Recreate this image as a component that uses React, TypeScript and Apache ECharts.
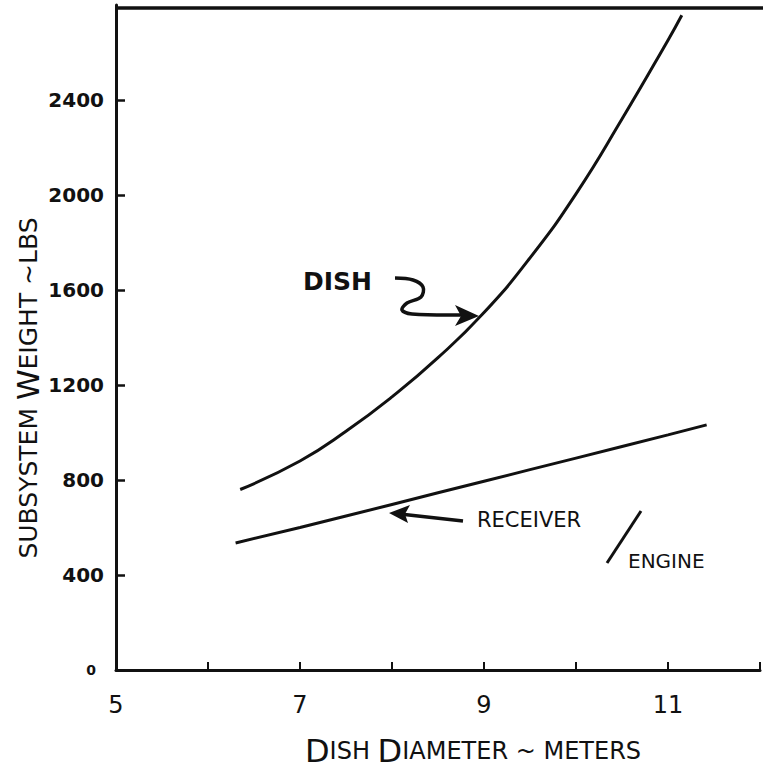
import React, { useEffect, useRef } from "react";
import * as echarts from "echarts";

// Axis settings
const xMin = 5;
const xMax = 12;
const xInterval = 1;
const yMin = 0;
const yMax = 2800;
const yInterval = 400;
const yTickValues = [0, 400, 800, 1200, 1600, 2000, 2400];
const xLabelValues = [5, 7, 9, 11];

// Dish curve (dish diameter in meters -> weight in lbs)
const dishX = [6.35, 7, 7.5, 8, 8.5, 9, 9.5, 10, 10.5, 11, 11.15];
const dishY = [760, 880, 1005, 1150, 1315, 1505, 1735, 2005, 2320, 2652, 2757];

// Receiver / engine curve
const receiverX = [6.3, 7, 8, 9, 10, 11, 11.42];
const receiverY = [535, 600, 697, 795, 892, 990, 1032];

const INK = "#111";
const FONT = "DejaVu Sans";

export default function App() {
  const ref = useRef<HTMLDivElement>(null);

  useEffect(() => {
    if (!ref.current) return;
    const chart = echarts.init(ref.current, null, { renderer: "svg" });

    const dishData = dishX.map((x, i) => [x, dishY[i]]);
    const recData = receiverX.map((x, i) => [x, receiverY[i]]);

    chart.setOption({
      animation: false,
      backgroundColor: "#fff",
      grid: { left: 116, right: -6, top: 5, bottom: 104, containLabel: false },
      xAxis: {
        type: "value",
        min: xMin,
        max: xMax,
        interval: xInterval,
        axisLine: { show: true, lineStyle: { color: INK, width: 3 } },
        axisTick: { show: true, inside: true, length: 8, lineStyle: { color: INK, width: 2 } },
        splitLine: { show: false },
        axisLabel: {
          margin: 23,
          color: INK,
          fontFamily: FONT,
          fontSize: 24,
          formatter: (v: number) => (xLabelValues.indexOf(v) >= 0 ? String(v) : ""),
        },
      },
      yAxis: {
        type: "value",
        min: yMin,
        max: yMax,
        interval: yInterval,
        axisLine: { show: true, lineStyle: { color: INK, width: 3 } },
        axisTick: {
          show: true,
          inside: true,
          length: 9,
          lineStyle: { color: INK, width: 2.5 },
          customValues: yTickValues,
        },
        splitLine: { show: false },
        axisLabel: {
          margin: 12,
          color: INK,
          fontFamily: FONT,
          fontWeight: "bold",
          fontSize: 20,
          customValues: yTickValues,
          formatter: (v: number) => (v === yMax ? "" : v === 0 ? "{z|0}" : String(v)),
          rich: {
            z: { fontSize: 14, fontFamily: FONT, color: INK, padding: [0, 8, 0, 0] },
          },
        },
      },
      series: [
        {
          name: "Dish",
          type: "line",
          data: dishData,
          smooth: 0.5,
          showSymbol: false,
          lineStyle: { color: INK, width: 3 },
        },
        {
          name: "Receiver/Engine",
          type: "line",
          data: recData,
          smooth: 0.5,
          showSymbol: false,
          lineStyle: { color: INK, width: 3 },
        },
      ],
      graphic: [
        // top frame line
        {
          type: "line",
          shape: { x1: 116, y1: 8, x2: 763, y2: 8 },
          style: { stroke: INK, lineWidth: 3.5 },
        },
        // DISH label and squiggle arrow
        {
          type: "text",
          x: 303,
          y: 281,
          style: {
            text: "DISH",
            font: `bold 25px ${FONT}`,
            fill: INK,
            verticalAlign: "middle",
            align: "left",
          },
        },
        {
          type: "polyline",
          shape: {
            points: [
              [395, 278],
              [413, 280],
              [423, 287],
              [421, 297],
              [407, 303],
              [402, 310],
              [412, 314],
              [462, 315],
            ],
            smooth: 0.35,
          },
          style: { stroke: INK, lineWidth: 3.5, fill: "none" },
        },
        {
          type: "polygon",
          shape: { points: [[479, 316], [455, 305], [461, 316], [455, 326]] },
          style: { fill: INK },
        },
        // RECEIVER / ENGINE label and arrow
        {
          type: "line",
          shape: { x1: 463, y1: 521, x2: 400, y2: 514 },
          style: { stroke: INK, lineWidth: 3.5 },
        },
        {
          type: "polygon",
          shape: { points: [[389, 513], [410, 505], [405, 514], [408, 523]] },
          style: { fill: INK },
        },
        {
          type: "text",
          x: 477,
          y: 520,
          style: {
            text: "RECEIVER",
            font: `21px ${FONT}`,
            fill: INK,
            verticalAlign: "middle",
            align: "left",
          },
        },
        {
          type: "line",
          shape: { x1: 641, y1: 511, x2: 607, y2: 563 },
          style: { stroke: INK, lineWidth: 3 },
        },
        {
          type: "text",
          x: 628,
          y: 561,
          style: {
            text: "ENGINE",
            font: `20px ${FONT}`,
            fill: INK,
            verticalAlign: "middle",
            align: "left",
          },
        },
        // Y axis title (rotated)
        {
          type: "text",
          x: 28,
          y: 388,
          rotation: Math.PI / 2,
          style: {
            text: "{s|SUBSYSTEM }{b|W}{s|EIGHT ~LBS}",
            align: "center",
            verticalAlign: "middle",
            fill: INK,
            rich: {
              s: { fontFamily: FONT, fontSize: 25, fill: INK },
              b: { fontFamily: FONT, fontSize: 31, fill: INK },
            },
          },
        },
        // X axis title
        {
          type: "text",
          x: 473,
          y: 751,
          style: {
            text: "{b|D}{s|ISH }{b|D}{s|IAMETER ~ METERS}",
            align: "center",
            verticalAlign: "middle",
            fill: INK,
            rich: {
              s: { fontFamily: FONT, fontSize: 24, fill: INK },
              b: { fontFamily: FONT, fontSize: 32, fill: INK },
            },
          },
        },
      ],
    });

    return () => chart.dispose();
  }, []);

  return (
    <div
      ref={ref}
      style={{ position: "fixed", left: 0, top: 0, width: 763, height: 774, background: "#fff" }}
    />
  );
}
